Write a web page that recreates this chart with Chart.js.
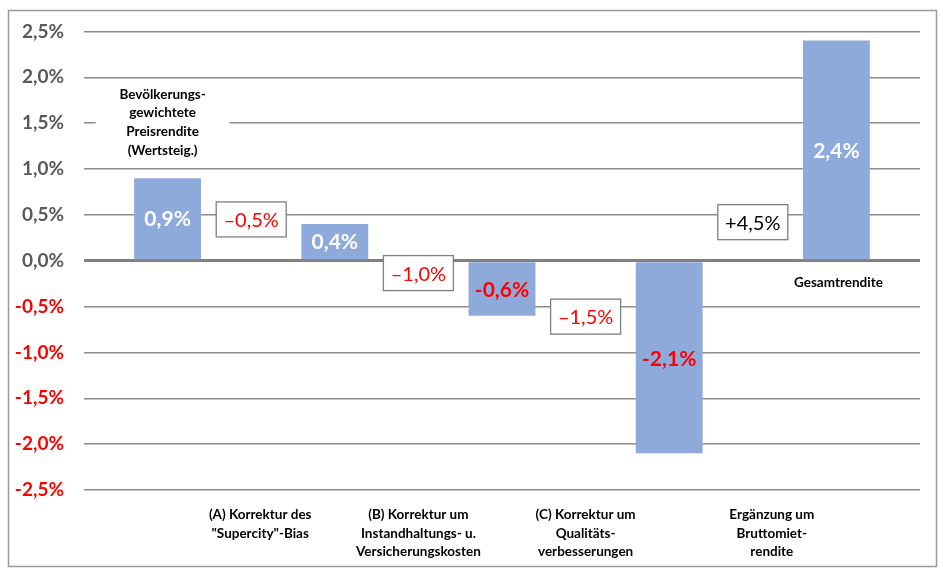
<!DOCTYPE html>
<html>
<head>
<meta charset="utf-8">
<script src="https://cdn.jsdelivr.net/npm/chart.js@4.4.1/dist/chart.umd.min.js"></script>
<style>
  html, body { margin: 0; padding: 0; background: #ffffff; }
  #wrap { position: relative; width: 943px; height: 587px; }
</style>
</head>
<body>
<div id="wrap"><canvas id="chart"></canvas></div>
<script>
/* --------------- Data --------------------- */
const barNames = ["Bevölkerungs-\ngewichtete\nPreisrendite\n(Wertsteig.)", "nach (A)", "nach (B)", "nach (C)", "Gesamtrendite"];
const barValues = [0.9, 0.4, -0.6, -2.1, 2.4];
const stepValues = [-0.5, -1.0, -1.5, 4.5];
const stepNames = [
    ["(A) Korrektur des", "\"Supercity\"-Bias"],
    ["(B) Korrektur um", "Instandhaltungs- u.", "Versicherungskosten"],
    ["(C) Korrektur um", "Qualitäts-", "verbesserungen"],
    ["Ergänzung um", "Bruttomiet-", "rendite"],
];
const yTicks = [-2.5, -2.0, -1.5, -1.0, -0.5, 0.0, 0.5, 1.0, 1.5, 2.0, 2.5];

const FONT = "Lato, 'Open Sans', sans-serif";
const fmt = (v, dash) => {
    const s = Math.abs(v).toFixed(1).replace(".", ",") + "%";
    if (v < 0) return (dash ? "\u2013" : "-") + s;
    return s;
};

/* --------------- Annotations plugin --------------------- */
const waterfallDecor = {
    id: "waterfallDecor",
    afterDraw(chart, args, opts) {
        const ctx = chart.ctx;
        const x = chart.scales.x;
        const y = chart.scales.y;
        const bars = chart.getDatasetMeta(0).data;
        ctx.save();

        // values inside the bars
        ctx.textAlign = "center";
        ctx.textBaseline = "middle";
        ctx.font = "bold 21px " + FONT;
        bars.forEach((b, i) => {
            const v = barValues[i];
            ctx.fillStyle = v < 0 ? "#ff0000" : "#ffffff";
            ctx.fillText(fmt(v, false), b.x, (b.y + b.base) / 2 + 1);
        });

        // step boxes between bars
        stepValues.forEach((v, i) => {
            const cx = (x.getPixelForValue(i) + x.getPixelForValue(i + 1)) / 2;
            const cy = y.getPixelForValue(opts.boxY[i]);
            const w = 70, h = 35;
            ctx.fillStyle = "#ffffff";
            ctx.fillRect(cx - w / 2, cy - h / 2, w, h);
            ctx.strokeStyle = "#7f7f7f";
            ctx.lineWidth = 1.3;
            ctx.strokeRect(cx - w / 2, cy - h / 2, w, h);
            ctx.font = "20px " + FONT;
            ctx.fillStyle = v < 0 ? "#ff0000" : "#000000";
            ctx.fillText(v < 0 ? fmt(v, true) : "+" + fmt(v, false), cx, cy + 1);
        });

        // step names under the plot
        ctx.font = "bold 13.5px " + FONT;
        ctx.fillStyle = "#000000";
        stepNames.forEach((lines, i) => {
            const cx = (x.getPixelForValue(i) + x.getPixelForValue(i + 1)) / 2 + opts.nameShift[i];
            lines.forEach((t, k) => {
                ctx.fillText(t, cx, y.bottom + 25 + k * 18.5);
            });
        });

        // first bar name above it, with white backing
        const first = bars[0];
        const lines = barNames[0].split("\n");
        const fx = first.x - 5;
        ctx.fillStyle = "#ffffff";
        ctx.fillRect(fx - 67, first.y - 94, 134, 76);
        ctx.fillStyle = "#000000";
        lines.forEach((t, k) => {
            ctx.fillText(t, fx, first.y - 84 + k * 18.7);
        });

        // last bar name below the zero line
        const last = bars[bars.length - 1];
        ctx.fillText(barNames[barNames.length - 1], last.x + 2, y.getPixelForValue(0) + 22);

        // outer frame
        ctx.strokeStyle = "#9a9a9a";
        ctx.lineWidth = 1.5;
        ctx.strokeRect(8.5, 10.5, 928, 556);
        ctx.restore();
    },
};

/* --------------- Chart --------------------- */
const chart = new Chart(document.getElementById("chart"), {
    type: "bar",
    plugins: [waterfallDecor],
    data: {
        labels: barNames,
        datasets: [
            {
                data: barValues,
                backgroundColor: "#8eaadb",
                borderWidth: 0,
                categoryPercentage: 1.0,
                barPercentage: 0.4,
            },
        ],
    },
    options: {
        responsive: true,
        maintainAspectRatio: false,
        animation: false,
        layout: { padding: { left: 0, right: 23, top: 28, bottom: 97 } },
        plugins: {
            legend: { display: false },
            tooltip: { enabled: false },
            waterfallDecor: {
                boxY: [0.45, -0.135, -0.61, 0.42],
                nameShift: [9, 0, 0, 19],
            },
        },
        scales: {
            x: {
                display: false,
            },
            y: {
                min: -2.5,
                max: 2.5,
                afterFit: (scale) => { scale.width = 84; },
                afterBuildTicks: (scale) => { scale.ticks = yTicks.map((v) => ({ value: v })); },
                border: { display: false },
                grid: {
                    drawTicks: false,
                    color: (c) => (Math.abs(c.tick.value) < 1e-9 ? "#808080" : "#8c8c8c"),
                    lineWidth: (c) => (Math.abs(c.tick.value) < 1e-9 ? 3 : 1.5),
                },
                ticks: {
                    padding: 20,
                    font: { family: FONT, size: 19, weight: "bold" },
                    color: (c) => (c.tick.value < -1e-9 ? "#ff0000" : "#595959"),
                    callback: (v) => fmt(v, false),
                },
            },
        },
    },
});
</script>
</body>
</html>
